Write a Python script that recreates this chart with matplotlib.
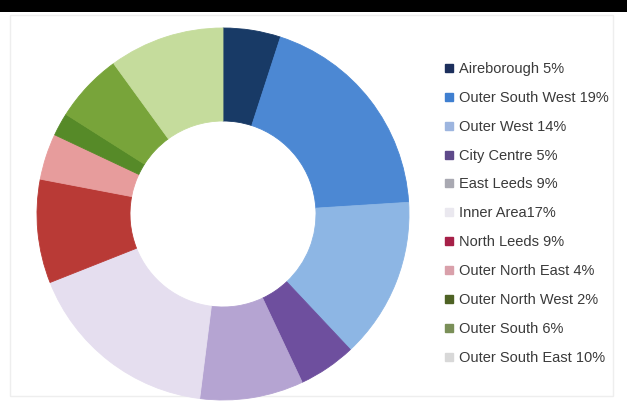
import matplotlib
matplotlib.use("Agg")
import matplotlib.pyplot as plt
from matplotlib.lines import Line2D
from matplotlib.patches import Rectangle

# ---- data ----
areas = ["Aireborough", "Outer South West", "Outer West", "City Centre", "East Leeds",
         "Inner Area", "North Leeds", "Outer North East", "Outer North West",
         "Outer South", "Outer South East"]
shares = [5, 19, 14, 5, 9, 17, 9, 4, 2, 6, 10]
legend_labels = ["Aireborough 5%", "Outer South West 19%", "Outer West 14%", "City Centre 5%",
                 "East Leeds 9%", "Inner Area17%", "North Leeds 9%", "Outer North East 4%",
                 "Outer North West 2%", "Outer South 6%", "Outer South East 10%"]

slice_colors = ["#183A66", "#4C88D3", "#8DB6E4", "#6E4F9E", "#B5A4D2",
                "#E5DEEF", "#B93A36", "#E79C9C", "#568A28", "#78A43A", "#C5DC9C"]
legend_colors = ["#1C2F5C", "#3F7FD0", "#9DB5DF", "#5E4A8A", "#A9A9B2",
                 "#EAE8EF", "#A62048", "#D9A0AA", "#4E6224", "#7A8F58", "#D8D8D8"]

W, H = 627, 412
fig = plt.figure(figsize=(W / 100, H / 100), dpi=100)
fig.patch.set_facecolor("white")

# top black band
fig.add_artist(Rectangle((0, 1 - 12 / H), 1, 12 / H, transform=fig.transFigure,
                         facecolor="black", edgecolor="none", zorder=5))
# faint chart-area border
fig.add_artist(Rectangle((10 / W, 1 - 396 / H), 603 / W, 381 / H, transform=fig.transFigure,
                         facecolor="none", edgecolor="#EEEEEE", lw=1.0, zorder=0))

cx, cy, r = 223, 214, 186
ax = fig.add_axes([(cx - r) / W, (H - cy - r) / H, 2 * r / W, 2 * r / H])
ax.pie(shares, colors=slice_colors, startangle=90, counterclock=False, radius=1.0,
       wedgeprops=dict(width=0.5, linewidth=0.6))
for w, c in zip(ax.patches, slice_colors):
    w.set_edgecolor(c)
ax.set_xlim(-1, 1)
ax.set_ylim(-1, 1)
ax.set_aspect("auto")
ax.axis("off")

handles = [Line2D([], [], linestyle="none", marker="s", markersize=6.1,
                  markerfacecolor=c, markeredgecolor=c) for c in legend_colors]
fig.legend(handles, legend_labels, loc="upper left",
           bbox_to_anchor=(442.7 / W, 1 - 62 / H), frameon=False,
           prop=dict(family="Liberation Sans", size=10.5), labelcolor="#3A3A3A",
           handlelength=0.8, handletextpad=0.32, labelspacing=1.02, borderpad=0, borderaxespad=0)

fig.savefig("out.png", dpi=100)
